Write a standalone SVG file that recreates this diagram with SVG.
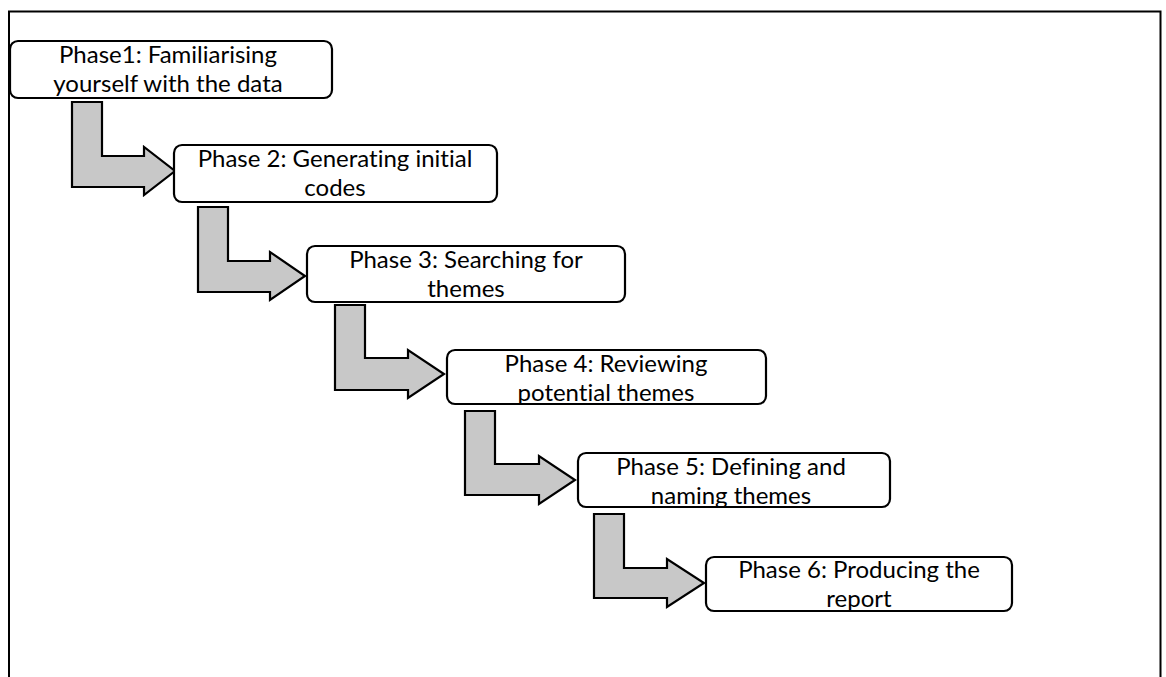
<svg xmlns="http://www.w3.org/2000/svg" width="1166" height="677" viewBox="0 0 1166 677">
<style>
.frame{fill:none;stroke:#000;stroke-width:2}
.box{fill:#fff;stroke:#000;stroke-width:2.2}
.arr{fill:#c8c8c8;stroke:#000;stroke-width:2.2;stroke-linejoin:miter}
text{font-family:Lato,"Open Sans","Liberation Sans",sans-serif;font-size:24px;fill:#000;text-anchor:middle;font-variant-ligatures:none;font-feature-settings:"liga" 0,"clig" 0}
</style>
<rect width="1166" height="677" fill="#fff"/>
<path class="frame" d="M9,677 V11.5 H1160.5 V677"/>
<g id="connectors">
<path class="arr" d="M72,102 H102 V156 H144 V147 L175,171 L144,195 V187 H72 Z"/>
<path class="arr" d="M198,207 H228 V261 H270 V252 L305,276 L270,300 V292 H198 Z"/>
<path class="arr" d="M335,305 H365 V358 H408 V350 L444,374 L408,398 V390 H335 Z"/>
<path class="arr" d="M465,411 H495 V464 H539 V456 L575,480 L539,504 V495 H465 Z"/>
<path class="arr" d="M594,514 H624 V568 H667 V559 L704,583 L667,607 V598 H594 Z"/>
</g>
<g id="phase1">
<rect class="box" x="10" y="41" width="322" height="57" rx="8"/>
<text x="168" y="63">Phase1: Familiarising</text>
<text x="168" y="92">yourself with the data</text>
</g>
<g id="phase2">
<rect class="box" x="174" y="145" width="323" height="57" rx="8"/>
<text x="335" y="167">Phase 2: Generating initial</text>
<text x="335" y="196">codes</text>
</g>
<g id="phase3">
<rect class="box" x="307" y="246" width="318" height="56" rx="8"/>
<text x="466" y="268">Phase 3: Searching for</text>
<text x="466" y="297">themes</text>
</g>
<g id="phase4">
<rect class="box" x="447" y="350" width="319" height="54" rx="8"/>
<text x="606" y="372">Phase 4: Reviewing</text>
<text x="606" y="401">potential themes</text>
</g>
<g id="phase5">
<rect class="box" x="578" y="453" width="312" height="54" rx="8"/>
<text x="731" y="475">Phase 5: Defining and</text>
<text x="731" y="504">naming themes</text>
</g>
<g id="phase6">
<rect class="box" x="706" y="557" width="306" height="54" rx="8"/>
<text x="859" y="578">Phase 6: Producing the</text>
<text x="859" y="607">report</text>
</g>
</svg>
